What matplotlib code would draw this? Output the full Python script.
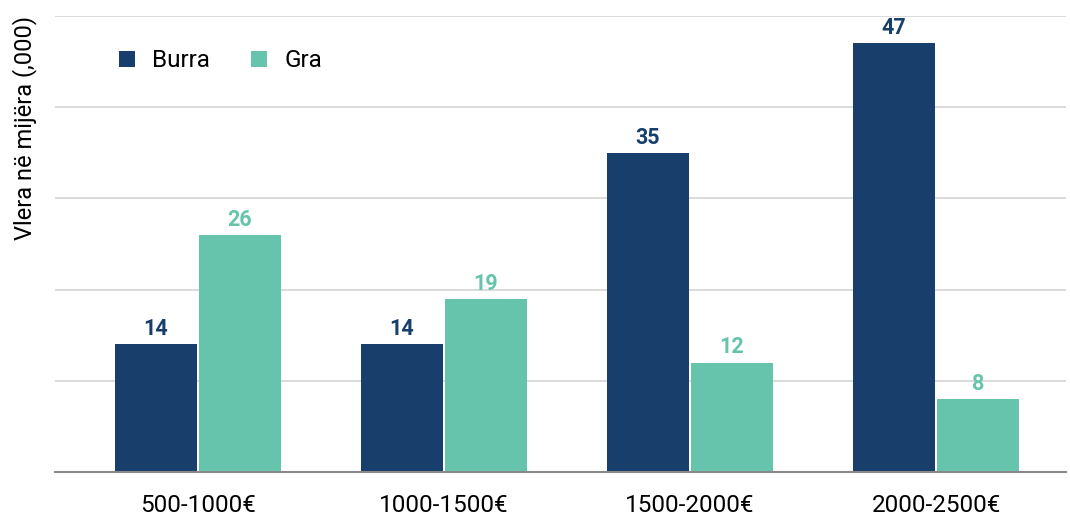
import matplotlib
matplotlib.use("Agg")
import matplotlib.pyplot as plt
import numpy as np

plt.rcParams["font.family"] = ["Roboto", "DejaVu Sans"]

categories = ["500-1000€", "1000-1500€", "1500-2000€", "2000-2500€"]
burra = [14, 14, 35, 47]
gra = [26, 19, 12, 8]

navy = "#183f6b"
teal = "#66c4ad"

fig = plt.figure(figsize=(10.7, 5.16), dpi=100)
ax = fig.add_axes([55 / 1070, 44 / 516, 1011 / 1070, 456 / 516])

x = np.arange(len(categories))
w = 0.333
gap = 0.004
b1 = ax.bar(x - w / 2 - gap, burra, w, color=navy, label="Burra")
b2 = ax.bar(x + w / 2 + gap, gra, w, color=teal, label="Gra")

# value labels above the bars
for rect, v in zip(b1, burra):
    ax.text(rect.get_x() + rect.get_width() / 2, v + 0.45, str(v),
            ha="center", va="bottom", color=navy, fontsize=15.5, fontweight="bold")
for rect, v in zip(b2, gra):
    ax.text(rect.get_x() + rect.get_width() / 2, v + 0.45, str(v),
            ha="center", va="bottom", color=teal, fontsize=15.5, fontweight="bold")

ax.set_ylim(0, 50)
ax.set_xlim(-0.581, 3.528)
ax.set_yticks([10, 20, 30, 40, 50])
ax.yaxis.grid(True, color="#d4d4d4", linewidth=1.2)
ax.set_axisbelow(True)
ax.tick_params(axis="y", left=False, labelleft=False)
ax.tick_params(axis="x", bottom=False, labelsize=17.5, pad=12)
ax.set_xticks(x)
ax.set_xticklabels(categories)
for s in ["top", "right", "left"]:
    ax.spines[s].set_visible(False)
ax.spines["bottom"].set_color("#888888")
ax.spines["bottom"].set_linewidth(1.5)

ax.set_ylabel("Vlera në mijëra (,000)", fontsize=17)
ax.yaxis.set_label_coords(-0.018, 0.754)

ax.legend(loc="upper left", bbox_to_anchor=(0.042, 0.975), ncol=2, frameon=False,
          fontsize=17.5, handlelength=0.65, handleheight=0.65, columnspacing=1.7,
          handletextpad=0.7)

fig.savefig("out.png", dpi=100)
